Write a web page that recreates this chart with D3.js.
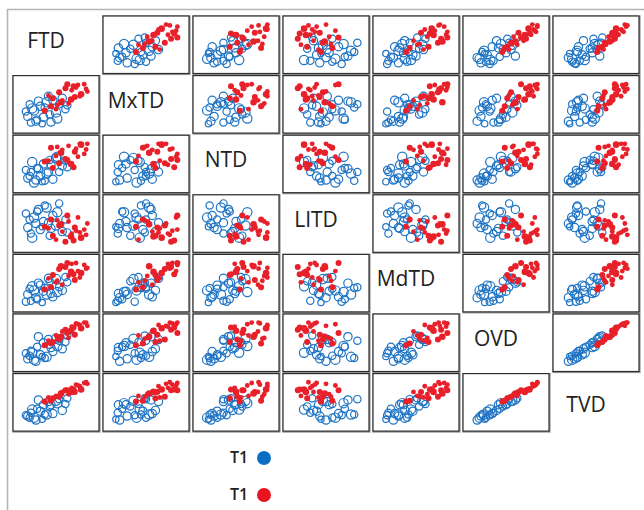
<!DOCTYPE html>
<html><head><meta charset="utf-8">
<script src="https://cdn.jsdelivr.net/npm/d3@7"></script>
<style>body{margin:0;background:#fff}svg{display:block}</style>
</head><body>
<script>
const variables = ["FTD","MxTD","NTD","LITD","MdTD","OVD","TVD"];
const groupLabels = ["T1","T1"];
// group 0 = blue (open), group 1 = red (filled)
const group = [0,0,0,0,0,0,0,0,0,0,0,0,0,0,0,0,0,0,0,0,0,0,0,0,
               1,1,1,1,1,1,1,1,1,1,1,1,1,1,1,1,1,1,1,1,1,1,1];
const FTD  = [0.5,1.0,1.5,2.0,2.5,3.0,3.5,4.0,4.5,5.0,5.5,6.0,6.5,2.2,1.2,0.2,1.8,3.2,4.2,0.8,3.8,5.2,2.8,6.8,
              4.5,5.0,5.5,6.0,6.5,7.0,7.5,8.0,8.5,9.0,9.5,10.0,4.2,3.8,7.8,5.8,8.8,6.8,9.8,5.2,7.4,3.2,8.2];
const MxTD = [2.0,0.5,3.5,1.2,4.5,1.8,5.5,2.5,6.0,3.0,5.0,6.5,3.8,5.8,4.0,3.2,0.8,4.2,0.6,5.0,7.0,1.5,0.2,4.8,
              6.5,3.8,8.0,6.0,9.0,5.2,8.5,6.8,9.8,7.5,10.0,8.2,4.5,7.2,9.5,5.5,7.0,10.0,8.8,4.8,6.2,3.4,9.2];
const NTD  = [1.5,3.0,0.4,4.0,2.0,5.0,2.6,6.0,1.2,6.5,3.0,4.5,5.8,3.8,5.5,3.5,1.0,0.8,4.8,2.0,3.0,6.8,0.6,4.2,
              4.0,7.0,5.2,8.5,6.2,9.5,4.8,8.0,6.8,9.8,7.5,10.0,9.0,5.8,4.2,7.8,10.0,6.0,8.6,9.2,5.0,5.6,8.8];
const LITD = [4.0,2.5,6.5,8.0,3.5,5.5,9.0,2.0,7.0,4.5,10.0,3.0,6.0,8.5,1.5,7.5,5.0,9.5,3.8,6.0,5.2,7.8,4.2,2.8,
              2.0,1.0,4.5,3.0,0.5,5.5,2.5,4.0,6.5,1.5,3.5,5.0,6.0,3.8,0.8,4.8,2.8,7.0,2.2,5.8,1.8,4.2,3.2];
const MdTD = [2.2,0.6,3.2,1.0,4.5,3.0,2.2,5.5,1.6,6.0,4.0,3.2,6.5,5.0,4.2,0.4,1.4,3.8,2.4,3.6,6.2,2.8,0.2,5.2,
              7.0,5.2,8.5,4.6,9.0,6.8,9.8,5.8,8.0,7.5,9.5,8.8,4.0,6.2,7.2,9.2,6.4,10.0,8.6,5.6,7.8,3.4,10.0];
const OVD  = [1.0,3.0,0.8,4.0,2.0,5.0,1.5,4.5,2.8,6.0,5.5,3.5,5.2,6.5,2.5,2.4,0.4,1.2,3.8,1.8,5.8,4.2,1.6,6.8,
              5.2,6.8,5.8,7.8,8.2,6.2,9.0,7.0,9.6,8.6,10.0,9.2,4.8,5.5,8.8,6.5,9.4,7.4,10.0,6.0,8.0,4.4,9.8];
const TVD  = [1.6,2.4,1.2,3.4,2.8,4.4,2.0,4.0,2.2,5.4,5.8,3.0,4.6,5.6,3.2,1.8,0.6,2.0,4.4,1.2,5.2,4.8,0.8,6.0,
              6.0,6.6,6.4,7.6,8.0,7.0,8.6,7.6,9.2,8.2,9.8,9.6,5.4,6.2,8.2,7.2,9.0,8.0,10.0,6.4,7.6,5.2,9.4];
const weight = [7,5,9,5,7,7,9,5,7,9,5,7,5,7,9,5,7,5,7,5,7,9,3,5,
                5,3,5,3,5,3,3,5,3,6,3,3,5,3,5,6,3,5,3,3,6,5,3];

const data = [FTD,MxTD,NTD,LITD,MdTD,OVD,TVD];
const n = FTD.length;
const W = 644, H = 510;
const svg = d3.select("body").append("svg").attr("width", W).attr("height", H);

// figure frame
svg.append("path").attr("d", "M7.5,510 L7.5,9.5 L644,9.5")
  .attr("fill","none").attr("stroke","#b5b5b5").attr("stroke-width",1.6);

const cellW = 86, cellH = 57.5, stepX = 90, stepY = 59.6, x0 = 13, y0 = 16;
const blue = "#1f74c4", red = "#e8202a";
const rBlue = d3.scaleLinear().domain([0,10]).range([2.4,4.9]);
const rRed  = d3.scaleLinear().domain([0,10]).range([1.6,4.4]);

variables.forEach((vy, i) => {
  variables.forEach((vx, j) => {
    const cx = x0 + j*stepX, cy = y0 + i*stepY;
    const g = svg.append("g").attr("transform", `translate(${cx},${cy})`);
    if (i === j) {
      g.append("text").attr("x", cellW/2 - 10).attr("y", 32 + (i===6?6:0))
        .attr("text-anchor","middle")
        .attr("font-family","'Open Sans', sans-serif").attr("font-size",21)
        .attr("fill","#222").text(vx);
      return;
    }
    const xs = d3.scaleLinear().domain([-0.9,10.9]).range([6, cellW-6]);
    const ys = d3.scaleLinear().domain([-0.9,10.9]).range([cellH-5, 5]);
    g.append("rect").attr("x",0.5).attr("y",0.5).attr("width",cellW).attr("height",cellH)
      .attr("fill","none").attr("stroke","#9a9a9a").attr("stroke-width",2.2);
    g.append("rect").attr("x",0).attr("y",0).attr("width",cellW).attr("height",cellH)
      .attr("fill","#fff").attr("stroke","#2e2e2e").attr("stroke-width",1.2);
    const idx = d3.range(n);
    g.selectAll("circle.b").data(idx.filter(k => group[k]===0)).join("circle")
      .attr("cx", k => xs(data[j][k])).attr("cy", k => ys(data[i][k]))
      .attr("r", k => rBlue(weight[k]))
      .attr("fill","none").attr("stroke",blue).attr("stroke-width",1.2);
    g.selectAll("circle.r").data(idx.filter(k => group[k]===1)).join("circle")
      .attr("cx", k => xs(data[j][k])).attr("cy", k => ys(data[i][k]))
      .attr("r", k => rRed(weight[k]))
      .attr("fill",red);
  });
});

// legend
const legColors = ["#0a6fc2", "#e8141f"];
groupLabels.forEach((lab, k) => {
  const ly = 458 + k*37;
  svg.append("text").attr("x", 230).attr("y", ly + 5)
    .attr("font-family","'Open Sans', sans-serif").attr("font-size",16).attr("font-weight",600)
    .attr("fill","#222").text(lab);
  svg.append("circle").attr("cx", 264).attr("cy", ly).attr("r", 7).attr("fill", legColors[k]);
});
</script>
</body></html>
